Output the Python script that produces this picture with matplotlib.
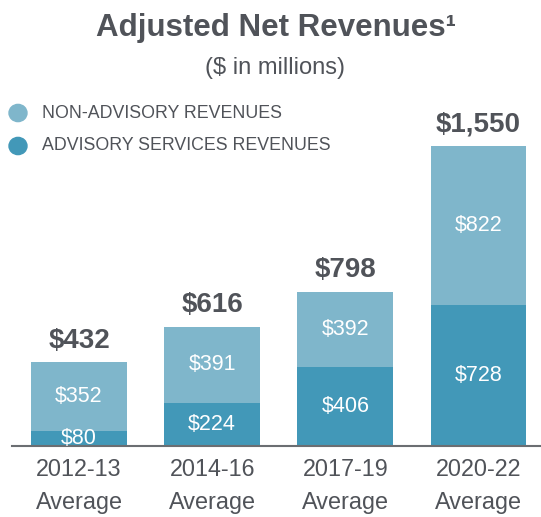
import matplotlib.pyplot as plt

categories = ["2012-13\nAverage", "2014-16\nAverage", "2017-19\nAverage", "2020-22\nAverage"]
advisory = [80, 224, 406, 728]
non_advisory = [352, 391, 392, 822]
totals = [432, 616, 798, 1550]

dark = "#4298b8"
light = "#7fb6cb"
grey = "#505359"

plt.rcParams['font.family'] = ['Liberation Sans', 'DejaVu Sans']

fig = plt.figure(figsize=(5.41, 5.17), dpi=100)
ax = fig.add_axes([12/541, 71/517, 1 - 12/541, 300/517])

x = range(len(categories))
w = 0.72
ax.bar(x, advisory, w, color=dark)
ax.bar(x, non_advisory, w, bottom=advisory, color=light)

for i in x:
    ax.text(i, advisory[i] / 2, "$%d" % advisory[i], ha="center", va="center",
            color="white", fontsize=15.5)
    ax.text(i, advisory[i] + non_advisory[i] / 2, "$%d" % non_advisory[i], ha="center",
            va="center", color="white", fontsize=15.5)
    ax.text(i, totals[i] + 45, "${:,}".format(totals[i]), ha="center", va="bottom",
            color=grey, fontsize=20, fontweight="bold", clip_on=False)

ax.set_xlim(-0.504, 3.47)
ax.set_ylim(0, 1550)
ax.set_xticks(list(x))
ax.set_xticklabels(categories, fontsize=16.8, color=grey, linespacing=1.55)
ax.tick_params(axis="x", length=0, pad=9)
ax.set_yticks([])
for s in ["top", "right", "left"]:
    ax.spines[s].set_visible(False)
ax.spines["bottom"].set_color("#6b6e72")
ax.spines["bottom"].set_linewidth(1.5)

fig.text(276/541, 1 - 28/517, "Adjusted Net Revenues\u00b9", ha="center", va="center",
         fontsize=22.5, fontweight="bold", color=grey)
fig.text(275/541, 1 - 68/517, "($ in millions)", ha="center", va="center",
         fontsize=17, color=grey)

fig.patches.append(plt.Circle((18/541, 1 - 113/517), 9/541, transform=fig.transFigure,
                              color=light, figure=fig))
fig.text(42/541, 1 - 113/517, "NON-ADVISORY REVENUES", va="center", fontsize=12.8, color=grey)
fig.patches.append(plt.Circle((18/541, 1 - 146/517), 9/541, transform=fig.transFigure,
                              color=dark, figure=fig))
fig.text(42/541, 1 - 146/517, "ADVISORY SERVICES REVENUES", va="center", fontsize=12.8, color=grey)

fig.savefig("out.png", dpi=100)
